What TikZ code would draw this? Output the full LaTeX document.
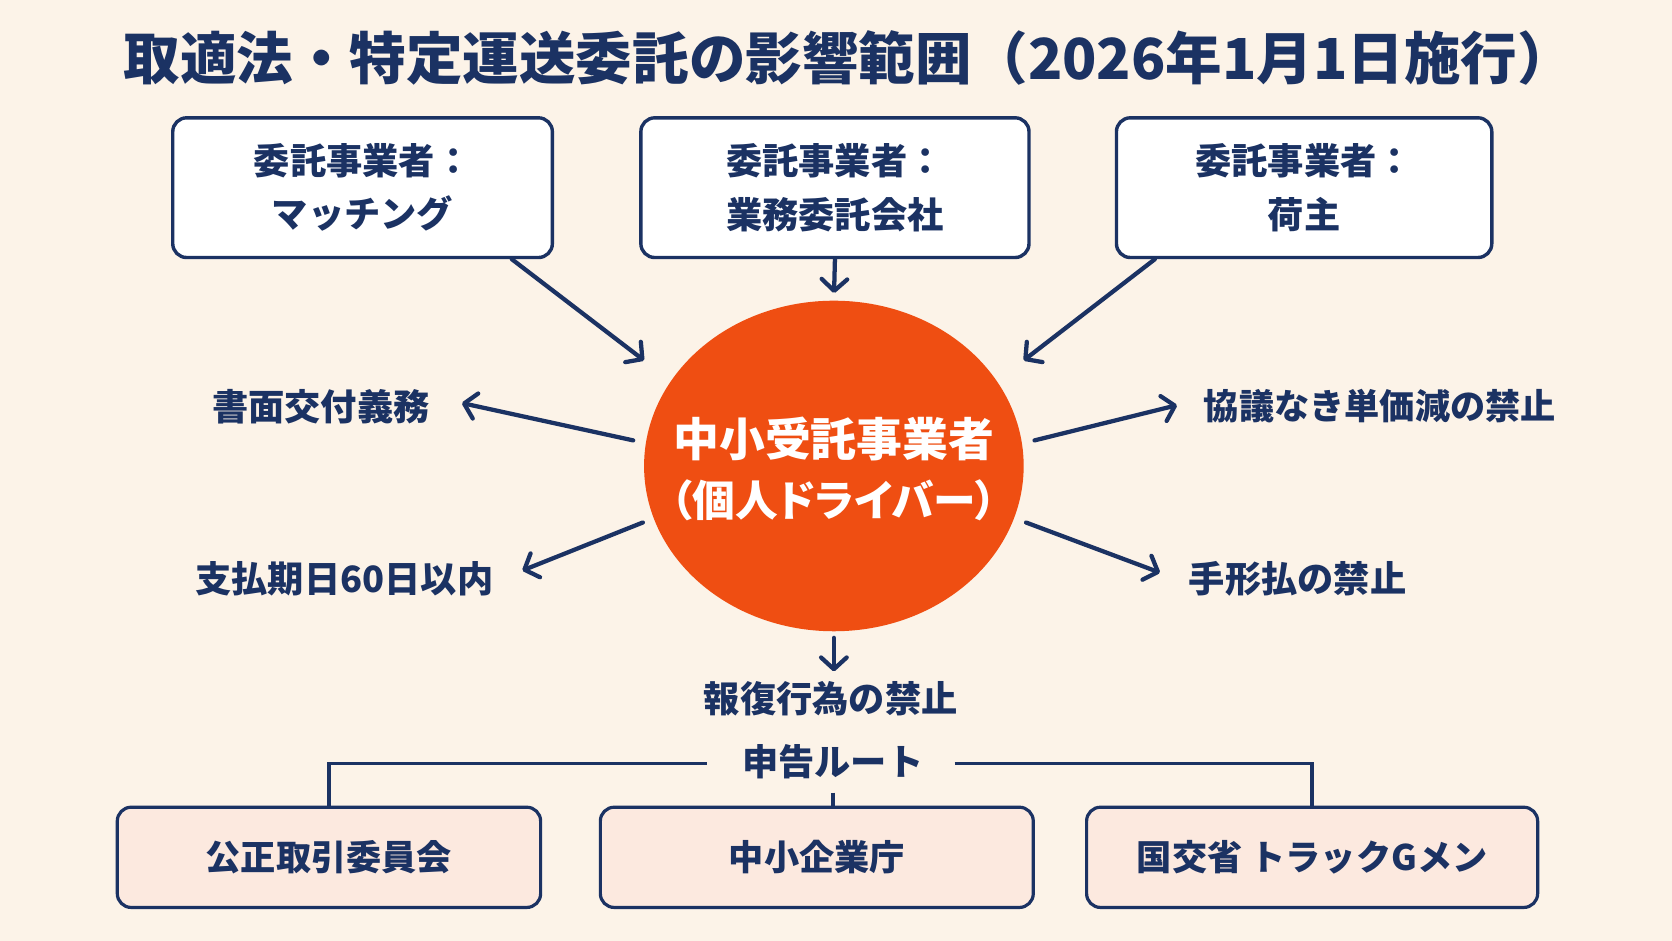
\documentclass[tikz,border=0pt]{standalone}
\usepackage{fontspec}
\setmainfont{Noto Sans CJK JP}
\newfontfamily\jpprop{Noto Sans CJK JP}[RawFeature=+palt]
\usetikzlibrary{arrows.meta,shapes.geometric}

\definecolor{navy}{HTML}{1B3263}
\definecolor{cream}{HTML}{FCF3E8}
\definecolor{driverorange}{HTML}{EF4E12}
\definecolor{pinkbox}{HTML}{FCE9DF}

\begin{document}
\begin{tikzpicture}[x=1pt, y=-1pt,
    topbox/.style={draw=navy, line width=3.2pt, fill=white, rounded corners=13pt,
        minimum height=131pt, inner sep=0pt, align=center, text=navy,
        font=\fontsize{34}{50}\selectfont\bfseries},
    routebox/.style={draw=navy, line width=3pt, fill=pinkbox, rounded corners=13pt,
        minimum height=94pt, inner sep=0pt, align=center, text=navy,
        font=\fontsize{33}{40}\selectfont\bfseries},
    rule/.style={text=navy, inner sep=0pt, font=\fontsize{34}{40}\selectfont\bfseries},
    arr/.style={draw=navy, line width=4pt, line cap=round,
        -{Straight Barb[length=11pt, width=24pt, line width=4pt, round]}},
    link/.style={draw=navy, line width=3.4pt}]

    % Background
    \fill[cream] (0,0) rectangle (1568,882);
    \useasboundingbox (0,0) rectangle (1568,882);

    % Title
    \node[text=navy, font=\fontsize{53}{60}\selectfont\bfseries] (title) at (796,54)
        {取適法・特定運送委託の影響範囲（2026年1月1日施行）};

    % Commissioning parties
    \node[topbox, minimum width=356pt] (match) at (340,176) {委託事業者：\\マッチング};
    \node[topbox, minimum width=364pt] (gyomu) at (783,176) {委託事業者：\\業務委託会社};
    \node[topbox, minimum width=352pt] (ninushi) at (1223,176) {委託事業者：\\荷主};

    % Driver in the centre
    \node[ellipse, fill=driverorange, minimum width=356pt, minimum height=310pt,
        inner sep=0pt] (driver) at (782,437) {};
    \node[align=center, text=white, font=\fontsize{43}{56}\selectfont\bfseries]
        (drivertext) at ([yshift=-3pt]driver.center)
        {中小受託事業者\\{\jpprop\fontsize{40}{56}\selectfont（個人ドライバー）}};

    % Arrow ends near the ellipse
    \coordinate (inmatch) at (604,338);
    \coordinate (inninushi) at (960,338);

    % Arrows into the driver
    \draw[arr] ([xshift=140pt]match.south) -- (inmatch);
    \draw[arr, shorten >=7pt] (gyomu.south) -- (driver.north);
    \draw[arr] ([xshift=-140pt]ninushi.south) -- (inninushi);

    % Rules
    \node[rule] (shomen) at (301,381) {書面交付義務};
    \node[rule] (shiharai) at (323,543) {支払期日60日以内};
    \node[rule, font=\fontsize{33}{40}\selectfont\bfseries] (kyogi) at (1294,381) {協議なき単価減の禁止};
    \node[rule] (tegata) at (1217,543) {手形払の禁止};
    \node[rule] (hofuku) at (779,655) {報復行為の禁止};

    % Arrows out of the driver
    \draw[arr] ([shift={(-10,-24)}]driver.west) -- ([shift={(30,-3)}]shomen.east);
    \draw[arr] ([shift={(-1,53)}]driver.west) -- ([shift={(27,-8)}]shiharai.east);
    \draw[arr] ([shift={(10,-24)}]driver.east) -- ([shift={(-25,-1)}]kyogi.west);
    \draw[arr] ([shift={(2,53)}]driver.east) -- ([shift={(-27,-6)}]tegata.west);
    \draw[arr] ([yshift=-6pt]driver.south) -- ([shift={(3,-9)}]hofuku.north);

    % Reporting route
    \node[rule] (shinkoku) at (781,714) {申告ルート};
    \node[routebox, minimum width=397pt] (kosei) at (308.5,804) {公正取引委員会};
    \node[routebox, minimum width=406pt] (chusho) at (766,804) {中小企業庁};
    \node[routebox, minimum width=423pt] (mlit) at (1230.5,804) {国交省 トラックGメン};

    \draw[link] ([shift={(-33,2)}]shinkoku.west) -| (kosei.north);
    \draw[link] ([shift={(29,2)}]shinkoku.east) -| (mlit.north);
    \draw[link] ([yshift=-13pt]shinkoku.south) -- (shinkoku.south |- chusho.north);
\end{tikzpicture}
\end{document}
